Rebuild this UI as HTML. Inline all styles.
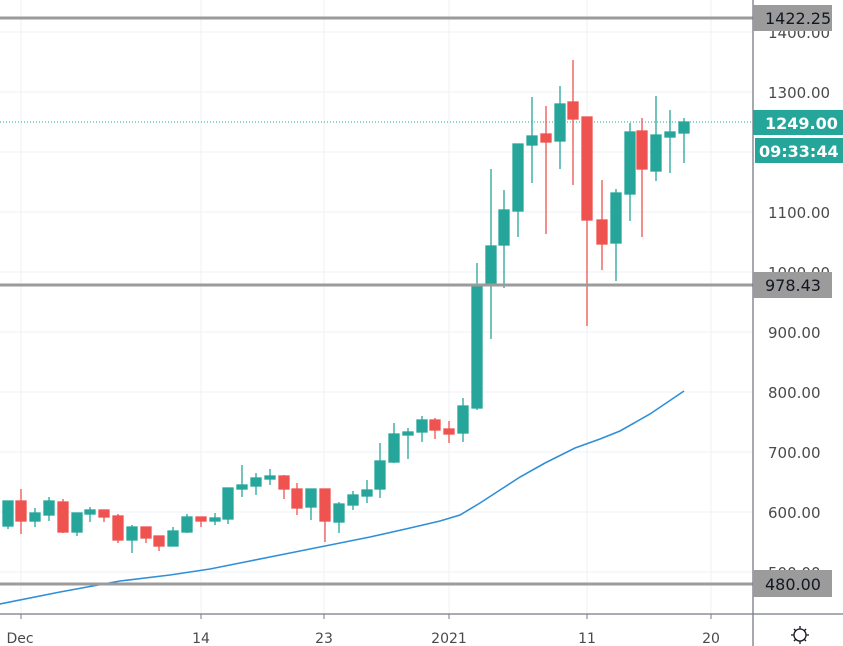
<!DOCTYPE html>
<html><head><meta charset="utf-8"><style>
html,body{margin:0;padding:0;background:#fff;width:843px;height:646px;overflow:hidden}
svg{display:block;font-family:"DejaVu Sans","Liberation Sans",sans-serif}
</style></head><body>
<svg width="843" height="646" viewBox="0 0 843 646" xmlns="http://www.w3.org/2000/svg">
<g stroke="#eef1f6" stroke-width="1">
<line x1="21" y1="0" x2="21" y2="614"/><line x1="201" y1="0" x2="201" y2="614"/><line x1="324" y1="0" x2="324" y2="614"/><line x1="449" y1="0" x2="449" y2="614"/><line x1="587" y1="0" x2="587" y2="614"/><line x1="711" y1="0" x2="711" y2="614"/>
<line x1="0" y1="32" x2="753" y2="32"/><line x1="0" y1="92" x2="753" y2="92"/><line x1="0" y1="152" x2="753" y2="152"/><line x1="0" y1="212" x2="753" y2="212"/><line x1="0" y1="272" x2="753" y2="272"/><line x1="0" y1="332" x2="753" y2="332"/><line x1="0" y1="392" x2="753" y2="392"/><line x1="0" y1="452" x2="753" y2="452"/><line x1="0" y1="512" x2="753" y2="512"/><line x1="0" y1="572" x2="753" y2="572"/>
</g>
<polyline fill="none" stroke="#2f8fd8" stroke-width="1.6" points="0,604 60,592 120,581 170,575 210,569 250,561 290,553 330,545 370,537 410,528 440,521 460,515 480,503 500,490 520,477 545,463 575,448 600,439 620,431 650,414 684,391"/>
<line x1="0" y1="122" x2="753" y2="122" stroke="#26a69a" stroke-width="1" stroke-dasharray="1,2"/>
<g stroke="#26a69a" fill="#26a69a" stroke-width="1.3">
<line x1="8" y1="501" x2="8" y2="529"/><rect x="3" y="501" width="10" height="25"/>
<line x1="35" y1="508" x2="35" y2="527"/><rect x="30" y="513" width="10" height="8"/>
<line x1="49" y1="497" x2="49" y2="521"/><rect x="44" y="501" width="10" height="14"/>
<line x1="77" y1="513" x2="77" y2="536"/><rect x="72" y="513" width="10" height="19"/>
<line x1="90" y1="507" x2="90" y2="522"/><rect x="85" y="510" width="10" height="4"/>
<line x1="132" y1="525" x2="132" y2="553"/><rect x="127" y="527" width="10" height="13"/>
<line x1="173" y1="527" x2="173" y2="546"/><rect x="168" y="531" width="10" height="15"/>
<line x1="187" y1="514" x2="187" y2="533"/><rect x="182" y="517" width="10" height="15"/>
<line x1="215" y1="513" x2="215" y2="525"/><rect x="210" y="518" width="10" height="3"/>
<line x1="228" y1="488" x2="228" y2="524"/><rect x="223" y="488" width="10" height="31"/>
<line x1="242" y1="465" x2="242" y2="497"/><rect x="237" y="485" width="10" height="4"/>
<line x1="256" y1="473" x2="256" y2="495"/><rect x="251" y="478" width="10" height="8"/>
<line x1="270" y1="469" x2="270" y2="485"/><rect x="265" y="476" width="10" height="3"/>
<line x1="311" y1="489" x2="311" y2="520"/><rect x="306" y="489" width="10" height="18"/>
<line x1="339" y1="502" x2="339" y2="533"/><rect x="334" y="504" width="10" height="18"/>
<line x1="353" y1="491" x2="353" y2="510"/><rect x="348" y="495" width="10" height="10"/>
<line x1="367" y1="480" x2="367" y2="503"/><rect x="362" y="490" width="10" height="6"/>
<line x1="380" y1="443" x2="380" y2="498"/><rect x="375" y="461" width="10" height="28"/>
<line x1="394" y1="423" x2="394" y2="463"/><rect x="389" y="434" width="10" height="28"/>
<line x1="408" y1="428" x2="408" y2="459"/><rect x="403" y="432" width="10" height="3"/>
<line x1="422" y1="416" x2="422" y2="442"/><rect x="417" y="420" width="10" height="12"/>
<line x1="463" y1="398" x2="463" y2="442"/><rect x="458" y="406" width="10" height="27"/>
<line x1="477" y1="263" x2="477" y2="410"/><rect x="472" y="285" width="10" height="123"/>
<line x1="491" y1="169" x2="491" y2="339"/><rect x="486" y="246" width="10" height="38"/>
<line x1="504" y1="190" x2="504" y2="288"/><rect x="499" y="210" width="10" height="35"/>
<line x1="518" y1="144" x2="518" y2="237"/><rect x="513" y="144" width="10" height="67"/>
<line x1="532" y1="97" x2="532" y2="183"/><rect x="527" y="136" width="10" height="9"/>
<line x1="560" y1="86" x2="560" y2="169"/><rect x="555" y="104" width="10" height="37"/>
<line x1="616" y1="189" x2="616" y2="281"/><rect x="611" y="193" width="10" height="50"/>
<line x1="630" y1="123" x2="630" y2="221"/><rect x="625" y="132" width="10" height="62"/>
<line x1="656" y1="96" x2="656" y2="181"/><rect x="651" y="135" width="10" height="36"/>
<line x1="670" y1="110" x2="670" y2="173"/><rect x="665" y="132" width="10" height="5"/>
<line x1="684" y1="118" x2="684" y2="163"/><rect x="679" y="122" width="10" height="11"/>
</g>
<g stroke="#ef5350" fill="#ef5350" stroke-width="1.3">
<line x1="21" y1="489" x2="21" y2="534"/><rect x="16" y="501" width="10" height="20"/>
<line x1="63" y1="499" x2="63" y2="533"/><rect x="58" y="502" width="10" height="30"/>
<line x1="104" y1="510" x2="104" y2="522"/><rect x="99" y="510" width="10" height="7"/>
<line x1="118" y1="514" x2="118" y2="543"/><rect x="113" y="516" width="10" height="24"/>
<line x1="146" y1="527" x2="146" y2="543"/><rect x="141" y="527" width="10" height="11"/>
<line x1="159" y1="536" x2="159" y2="551"/><rect x="154" y="536" width="10" height="10"/>
<line x1="201" y1="517" x2="201" y2="527"/><rect x="196" y="517" width="10" height="4"/>
<line x1="284" y1="475" x2="284" y2="499"/><rect x="279" y="476" width="10" height="13"/>
<line x1="297" y1="483" x2="297" y2="515"/><rect x="292" y="489" width="10" height="19"/>
<line x1="325" y1="489" x2="325" y2="542"/><rect x="320" y="489" width="10" height="32"/>
<line x1="435" y1="418" x2="435" y2="439"/><rect x="430" y="420" width="10" height="10"/>
<line x1="449" y1="421" x2="449" y2="443"/><rect x="444" y="429" width="10" height="5"/>
<line x1="546" y1="106" x2="546" y2="234"/><rect x="541" y="134" width="10" height="8"/>
<line x1="573" y1="60" x2="573" y2="185"/><rect x="568" y="102" width="10" height="17"/>
<line x1="587" y1="117" x2="587" y2="326"/><rect x="582" y="117" width="10" height="103"/>
<line x1="602" y1="180" x2="602" y2="270"/><rect x="597" y="220" width="10" height="24"/>
<line x1="642" y1="118" x2="642" y2="237"/><rect x="637" y="131" width="10" height="38"/>
</g>
<g stroke="#9b9b9b" stroke-width="3">
<line x1="0" y1="18" x2="753" y2="18"/><line x1="0" y1="285" x2="753" y2="285"/><line x1="0" y1="584" x2="753" y2="584"/>
</g>
<line x1="753" y1="0" x2="753" y2="646" stroke="#787b86" stroke-width="1.3"/>
<line x1="0" y1="614" x2="843" y2="614" stroke="#787b86" stroke-width="1.3"/>
<g stroke="#787b86" stroke-width="1"><line x1="21" y1="614" x2="21" y2="619"/><line x1="201" y1="614" x2="201" y2="619"/><line x1="324" y1="614" x2="324" y2="619"/><line x1="449" y1="614" x2="449" y2="619"/><line x1="587" y1="614" x2="587" y2="619"/><line x1="711" y1="614" x2="711" y2="619"/></g>
<g fill="#4a4a4a" font-size="15">
<text x="768" y="38">1400.00</text>
<text x="768" y="98">1300.00</text>
<text x="768" y="218">1100.00</text>
<text x="768" y="278">1000.00</text>
<text x="768" y="338">900.00</text>
<text x="768" y="398">800.00</text>
<text x="768" y="458">700.00</text>
<text x="768" y="518">600.00</text>
<text x="768" y="578">500.00</text>
</g>
<rect x="753" y="5" width="79" height="26" fill="#9b9b9b"/>
<text x="765" y="24" font-size="16" fill="#131722">1422.25</text>
<rect x="753" y="110" width="90" height="25" fill="#26a69a"/>
<text x="765" y="129" font-size="16" fill="#fff" font-weight="bold">1249.00</text>
<rect x="755" y="138" width="88" height="25" fill="#26a69a"/>
<text x="759" y="157" font-size="16" fill="#fff" font-weight="bold">09:33:44</text>
<rect x="753" y="272" width="79" height="26" fill="#9b9b9b"/>
<text x="765" y="291" font-size="16" fill="#131722">978.43</text>
<rect x="753" y="570" width="79" height="27" fill="#9b9b9b"/>
<text x="765" y="590" font-size="16" fill="#131722">480.00</text>
<g fill="#4a4a4a" font-size="14" text-anchor="middle">
<text x="20" y="643">Dec</text><text x="201" y="643">14</text><text x="324" y="643">23</text><text x="449" y="643">2021</text><text x="587" y="643">11</text><text x="711" y="643">20</text>
</g>
<g stroke="#131722" stroke-width="1.3" fill="none">
<circle cx="800" cy="635" r="6"/>
<line x1="800" y1="626" x2="800" y2="629"/><line x1="800" y1="641" x2="800" y2="644"/><line x1="791" y1="635" x2="794" y2="635"/><line x1="806" y1="635" x2="809" y2="635"/>
<line x1="794" y1="629" x2="796" y2="631"/><line x1="804" y1="639" x2="806" y2="641"/><line x1="806" y1="629" x2="804" y2="631"/><line x1="794" y1="641" x2="796" y2="639"/>
</g>
</svg>
</body></html>
